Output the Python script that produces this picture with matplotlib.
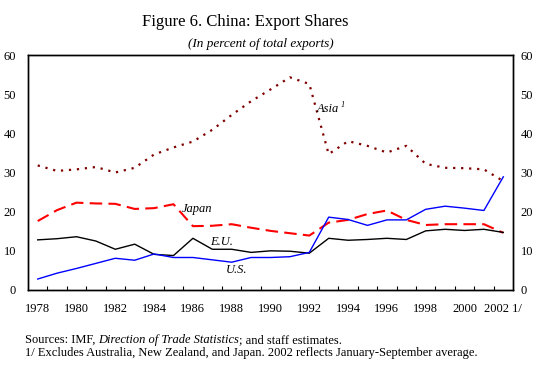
import matplotlib
matplotlib.use("Agg")
import matplotlib.pyplot as plt
import numpy as np

years = list(range(1978, 2003))
asia = [31.8, 30.4, 30.8, 31.4, 30.0, 31.2, 34.6, 36.4, 37.9, 40.9, 44.7, 48.2, 51.2,
        54.3, 52.6, 34.7, 38.0, 36.8, 35.1, 36.8, 32.2, 31.2, 31.1, 30.8, 27.8]
japan = [17.6, 20.4, 22.3, 22.1, 22.0, 20.7, 20.9, 21.9, 16.3, 16.4, 16.8, 15.9, 15.1,
         14.5, 13.9, 17.2, 17.9, 19.4, 20.3, 17.9, 16.6, 16.8, 16.8, 16.8, 14.6]
eu = [12.8, 13.1, 13.6, 12.5, 10.4, 11.7, 9.1, 8.8, 13.2, 10.4, 10.4, 9.6, 10.0,
      9.9, 9.4, 13.2, 12.7, 12.9, 13.2, 12.9, 15.1, 15.5, 15.2, 15.5, 14.7]
us = [2.8, 4.3, 5.5, 6.8, 8.1, 7.6, 9.2, 8.3, 8.3, 7.7, 7.1, 8.3, 8.3,
      8.5, 9.6, 18.6, 18.0, 16.5, 17.9, 17.9, 20.6, 21.4, 20.9, 20.3, 28.9]
xlabels = [str(y) for y in years[::2]]
xlabels[-1] = "2002 1/"
yticks = [0, 10, 20, 30, 40, 50, 60]

serif = "Liberation Serif"
plt.rcParams['font.family'] = [serif, 'DejaVu Serif']

fig = plt.figure(figsize=(5.41, 3.70), dpi=100)
ax = fig.add_axes([28/541, 1-290/370, (513-28)/541, (290-55)/370])
x = np.arange(len(years))

ax.plot(x, asia, color="#800000", lw=1.6, linestyle=(0, (1, 2.6)))
ax.plot(x, japan, color="#ff0000", lw=1.5, linestyle=(0, (6, 3)))
ax.plot(x, eu, color="black", lw=1.0)
ax.plot(x, us, color="#0000ff", lw=1.0)

ax.set_xlim(-0.5, len(years) - 0.5)
ax.set_ylim(0, 60)
ax.set_xticks(x[::2])
ax.set_xticklabels(xlabels, fontsize=9)
ax.set_xticks(np.arange(0.5, len(years) - 1, 1.0), minor=True)
ax.tick_params(axis='x', which='major', length=0, pad=9)
ax.tick_params(axis='x', which='minor', direction='in', length=3, width=0.8)
ax.set_yticks(yticks)
ax.tick_params(axis='y', which='both', length=0, labelsize=9, pad=8.5)

ax2 = ax.twinx()
ax2.set_ylim(0, 60)
ax2.set_yticks(yticks)
ax2.tick_params(axis='y', which='both', length=0, labelsize=9, pad=5.5)

for a in (ax, ax2):
    for s in a.spines.values():
        s.set_linewidth(1.0)

ax.text(14.4, 45.5, "Asia", fontsize=9, style='italic')
ax.text(15.6, 46.8, "1", fontsize=6, style='italic')
ax.text(7.45, 20.0, "Japan", fontsize=9, style='italic')
ax.text(8.9, 11.6, "E.U.", fontsize=9, style='italic')
ax.text(9.7, 4.3, "U.S.", fontsize=9, style='italic')

fig.text(245/541, 1-22/370, "Figure 6. China: Export Shares", ha='center', va='center', fontsize=12)
fig.text(261/541, 1-44/370, "(In percent of total exports)", ha='center', va='center',
         fontsize=9.5, style='italic')

# footnotes with mixed styles
fig.canvas.draw()
r = fig.canvas.get_renderer()
fx = 25 / 541
fy = 1 - 340 / 370
fs = 9
parts = [("Sources: IMF, ", 'normal'), ("Direction of Trade Statistics", 'italic'),
         ("; and staff estimates.", 'normal')]
for txt, st in parts:
    t = fig.text(fx, fy, txt, fontsize=fs, style=st, va='center', ha='left')
    bb = t.get_window_extent(renderer=r)
    fx += bb.width / fig.bbox.width
fig.text(25/541, 1 - 353/370,
         "1/ Excludes Australia, New Zealand, and Japan. 2002 reflects January-September average.",
         fontsize=fs, va='center', ha='left')

fig.savefig("out.png", dpi=100)
